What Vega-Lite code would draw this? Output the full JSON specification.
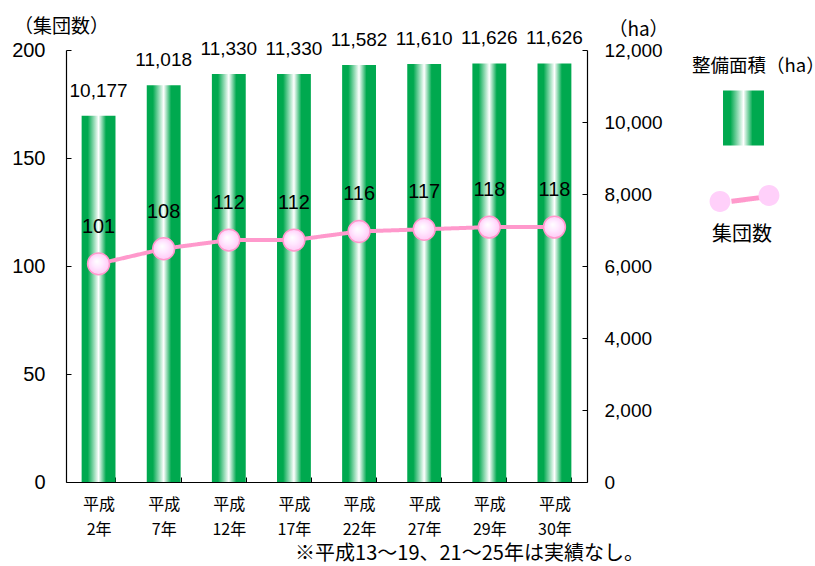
{
  "$schema": "https://vega.github.io/schema/vega-lite/v6.json",
  "width": 521,
  "height": 432,
  "autosize": {"type": "none"},
  "padding": {"left": 66, "top": 50, "right": 228, "bottom": 84},
  "background": "white",
  "config": {
    "view": {"stroke": null},
    "font": "Liberation Sans",
    "axis": {"domainColor": "#000", "tickColor": "#000", "labelColor": "#000", "titleColor": "#000", "grid": false, "domainWidth": 1.2, "tickWidth": 1}
  },
  "data": {
    "values": [
      {"year": "平成2年", "area": 10177, "count": 101},
      {"year": "平成7年", "area": 11018, "count": 108},
      {"year": "平成12年", "area": 11330, "count": 112},
      {"year": "平成17年", "area": 11330, "count": 112},
      {"year": "平成22年", "area": 11582, "count": 116},
      {"year": "平成27年", "area": 11610, "count": 117},
      {"year": "平成29年", "area": 11626, "count": 118},
      {"year": "平成30年", "area": 11626, "count": 118}
    ]
  },
  "encoding": {
    "x": {
      "field": "year", "type": "nominal", "sort": null,
      "scale": {"paddingInner": 0.48, "paddingOuter": 0.24},
      "axis": {
        "labelAngle": 0, "tickBand": "extent", "tickSize": -5, "labelPadding": 19,
        "labelExpr": "datum.label ? ['平成', replace(datum.label, '平成', '')] : ''",
        "labelFont": "Noto Sans CJK JP", "labelFontSize": 16, "labelLineHeight": 25, "labelBaseline": "top",
        "title": "※平成13～19、21～25年は実績なし。",
        "titleX": 403, "titleY": 71, "titleAlign": "center", "titleBaseline": "middle",
        "titleFont": "Noto Sans CJK JP", "titleFontSize": 20, "titleFontWeight": "normal"
      }
    }
  },
  "layer": [
    {
      "encoding": {
        "y": {
          "field": "area", "type": "quantitative",
          "scale": {"domain": [0, 12000]},
          "axis": {
            "orient": "right", "values": [0, 2000, 4000, 6000, 8000, 10000, 12000],
            "labelExpr": "format(datum.value, ',')",
            "tickSize": -5, "labelPadding": 22, "labelFontSize": 19, "labelFont": "Liberation Sans",
            "title": "（ha）", "titleAngle": 0, "titleX": 51, "titleY": -21, "titleAlign": "center", "titleBaseline": "middle",
            "titleFont": "Noto Sans CJK JP", "titleFontSize": 19, "titleFontWeight": "normal"
          }
        }
      },
      "layer": [
        {
          "mark": {
            "type": "bar",
            "fill": {"gradient": "linear", "x1": 0, "y1": 0, "x2": 1, "y2": 0,
              "stops": [
                {"offset": 0, "color": "#00A94F"},
                {"offset": 0.18, "color": "#00A94F"},
                {"offset": 0.5, "color": "#FFFFFF"},
                {"offset": 0.72, "color": "#00A94F"},
                {"offset": 1, "color": "#00A94F"}
              ]}
          },
          "encoding": {
            "opacity": {
              "datum": "整備面積(ha)", "type": "ordinal", "scale": {"range": [1]},
              "legend": {
                "orient": "none", "legendX": 626, "legendY": 7, "padding": 0,
                "title": "整備面積（ha）", "titleFont": "Noto Sans CJK JP", "titleFontSize": 18.5, "titleFontWeight": "normal", "titleColor": "#000", "titlePadding": 14,
                "labelExpr": "''", "symbolOffset": 23,
                "symbolType": "M-0.745,-1H0.745V1H-0.745Z", "symbolSize": 3025,
                "encode": {
                  "symbols": {
                    "update": {
                      "fill": {"value": {"gradient": "linear", "x1": 0, "y1": 0, "x2": 1, "y2": 0,
                        "stops": [
                          {"offset": 0, "color": "#00A94F"},
                          {"offset": 0.18, "color": "#00A94F"},
                          {"offset": 0.45, "color": "#FFFFFF"},
                          {"offset": 0.7, "color": "#00A94F"},
                          {"offset": 1, "color": "#00A94F"}
                        ]}},
                      "stroke": {"value": "transparent"},
                      "opacity": {"value": 1}
                    }
                  }
                }
              }
            }
          }
        },
        {
          "mark": {"type": "text", "dy": -19, "baseline": "alphabetic", "fontSize": 19, "font": "Liberation Sans", "color": "#000"},
          "encoding": {"text": {"field": "area", "type": "quantitative", "format": ","}}
        }
      ]
    },
    {
      "encoding": {
        "y": {
          "field": "count", "type": "quantitative",
          "scale": {"domain": [0, 200]},
          "axis": {
            "orient": "left", "values": [0, 50, 100, 150, 200],
            "tickSize": -5, "labelPadding": 26, "labelFontSize": 20, "labelFont": "Liberation Sans",
            "title": "（集団数）", "titleAngle": 0, "titleX": -5, "titleY": -24, "titleAlign": "center", "titleBaseline": "middle",
            "titleFont": "Noto Sans CJK JP", "titleFontSize": 19, "titleFontWeight": "normal"
          }
        }
      },
      "layer": [
        {
          "mark": {"type": "line", "color": "#FF99CC", "strokeWidth": 4},
          "encoding": {
            "strokeDash": {
              "datum": "集団数線", "type": "nominal", "scale": {"range": [[1, 0]]},
              "legend": {
                "orient": "none", "legendX": 646, "legendY": 129, "padding": 0,
                "title": null, "labelExpr": "''", "symbolOffset": 13, "symbolSize": 1296,
                "symbolType": "M-0.78,0.1L0.78,-0.1",
                "symbolStrokeColor": "#FF99CC", "symbolStrokeWidth": 5
              }
            }
          }
        },
        {
          "mark": {
            "type": "point", "filled": true, "size": 480, "stroke": "#FF99CC", "strokeWidth": 1.5, "opacity": 1,
            "fill": {"gradient": "radial", "x1": 0.42, "y1": 0.38, "r1": 0, "x2": 0.5, "y2": 0.5, "r2": 0.55,
              "stops": [
                {"offset": 0, "color": "#FFFFFF"},
                {"offset": 0.45, "color": "#FFE8FF"},
                {"offset": 1, "color": "#FFC4F4"}
              ]}
          },
          "encoding": {}
        },
        {
          "mark": {"type": "point", "filled": false, "opacity": 1, "size": 0, "fill": "#FFD0FA", "stroke": "#FF99CC", "strokeWidth": 3, "strokeOpacity": 1, "fillOpacity": 1},
          "encoding": {
            "shape": {
              "datum": "集団数", "type": "nominal",
              "scale": {"range": ["M-1.94,0.17a0.58 0.58 0 1 0 1.16 0a0.58 0.58 0 1 0 -1.16 0M0.78,-0.17a0.58 0.58 0 1 0 1.16 0a0.58 0.58 0 1 0 -1.16 0"]},
              "legend": {
                "orient": "none", "legendX": 646, "legendY": 129, "padding": 0,
                "title": "集団数", "titleOrient": "bottom", "titleFont": "Noto Sans CJK JP", "titleFontSize": 20, "titleFontWeight": "normal", "titleColor": "#000", "titlePadding": 7,
                "labelExpr": "''", "symbolOffset": 13, "symbolSize": 1296,
                "symbolFillColor": "#FFD0FA", "symbolStrokeColor": "#FF99CC", "symbolStrokeWidth": 3,
                "encode": {
                  "symbols": {
                    "update": {
                      "size": {"value": 1296},
                      "fill": {"value": "#FFD0FA"},
                      "stroke": {"value": "#FF99CC"},
                      "strokeWidth": {"value": 3},
                      "opacity": {"value": 1}
                    }
                  }
                }
              }
            }
          }
        },
        {
          "mark": {"type": "text", "dy": -31, "baseline": "alphabetic", "fontSize": 20, "font": "Liberation Sans", "color": "#000"},
          "encoding": {"text": {"field": "count", "type": "quantitative"}}
        }
      ]
    }
  ],
  "resolve": {"scale": {"y": "independent"}}
}
